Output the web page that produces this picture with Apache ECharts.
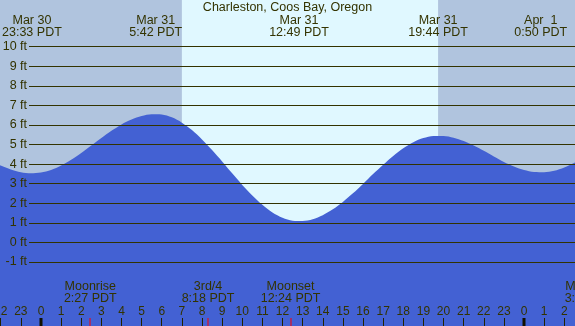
<!DOCTYPE html>
<html>
<head>
<meta charset="utf-8">
<script src="https://cdn.jsdelivr.net/npm/echarts@6/dist/echarts.min.js"></script>
<style>
  html, body { margin: 0; padding: 0; }
  #main { width: 575px; height: 326px; }
</style>
</head>
<body>
<div id="main"></div>
<script>
var dom = document.getElementById('main')
var chart = echarts.init(dom)

// hours counted from Mar 31 00:00 PDT, every half hour
var hours = [-3, -2.5, -2, -1.5, -1, -0.5, 0, 0.5, 1, 1.5, 2, 2.5, 3, 3.5, 4, 4.5, 5, 5.5, 6, 6.5, 7, 7.5, 8, 8.5, 9, 9.5, 10, 10.5, 11, 11.5, 12, 12.5, 13, 13.5, 14, 14.5, 15, 15.5, 16, 16.5, 17, 17.5, 18, 18.5, 19, 19.5, 20, 20.5, 21, 21.5, 22, 22.5, 23, 23.5, 24, 24.5, 25, 25.5, 26, 26.5, 27];
var heights = [4.35, 4.12, 3.93, 3.73, 3.59, 3.53, 3.57, 3.70, 3.93, 4.22, 4.57, 4.95, 5.33, 5.70, 6.03, 6.28, 6.46, 6.55, 6.54, 6.39, 6.12, 5.74, 5.26, 4.72, 4.14, 3.53, 2.94, 2.40, 1.92, 1.53, 1.26, 1.11, 1.09, 1.18, 1.39, 1.69, 2.07, 2.51, 2.99, 3.49, 3.97, 4.42, 4.81, 5.12, 5.33, 5.44, 5.44, 5.35, 5.18, 4.95, 4.68, 4.39, 4.11, 3.88, 3.70, 3.60, 3.59, 3.66, 3.83, 4.07, 4.38];

var extremeHours = [-0.45, 5.70, 12.82, 19.73, 24.83];
var extremeDates = ['Mar 30', 'Mar 31', 'Mar 31', 'Mar 31', 'Apr  1'];
var extremeTimes = ['23:33 PDT', '5:42 PDT', '12:49 PDT', '19:44 PDT', '0:50 PDT'];

var sunrise = 7.0;
var sunset = 19.73;

var moonHours = [2.45, 8.30, 12.40, 27.33];
var moonNames = ['Moonrise', '3rd/4', 'Moonset', 'Moonrise'];
var moonTimes = ['2:27 PDT', '8:18 PDT', '12:24 PDT', '3:20 PDT'];

var midnights = [0, 24];

var textColor = '#333300';
var font = '"Liberation Sans", Arial, sans-serif';
var yMin = -4.27, yMax = 12.386;

var options = {
    backgroundColor: '#B0C4DE',
    animation: false,
    title: {
        text: 'Charleston, Coos Bay, Oregon',
        left: 'center',
        top: 1,
        padding: 0,
        textStyle: { color: textColor, fontSize: 12.5, fontWeight: 'normal', fontFamily: font }
    },
    grid: [
        { left: -19.4, right: -9.4, top: 0, bottom: 0, outerBoundsMode: 'none' },
        { left: 29, right: 0, top: 46.7, bottom: 64, outerBoundsMode: 'none' }
    ],
    xAxis: [{
        type: 'value', gridIndex: 0, min: -3, max: 27, interval: 1,
        axisLine: { show: false, onZero: false },
        splitLine: { show: false },
        axisTick: { inside: true, length: 8, lineStyle: { color: '#222200' } },
        axisLabel: {
            inside: true, margin: 8, color: textColor, fontSize: 12, fontFamily: font,
            formatter: function (v) { return ((v % 24) + 24) % 24 }
        },
        z: 5
    }, {
        type: 'value', gridIndex: 1, min: 0, max: 1, show: false
    }],
    yAxis: [{
        type: 'value', gridIndex: 0, min: yMin, max: yMax, show: false
    }, {
        type: 'value', gridIndex: 1, min: -1, max: 10, interval: 1,
        axisLine: { show: false },
        axisTick: { show: false },
        axisLabel: { margin: 2, color: textColor, fontSize: 12.5, fontFamily: font, formatter: '{value} ft' },
        splitLine: { lineStyle: { color: '#333300', width: 1 } },
        z: 5
    }],
    series: [{
        type: 'custom',
        xAxisIndex: 0, yAxisIndex: 0,
        z: 1,
        silent: true,
        data: [[sunrise, sunset]],
        renderItem: function (params, api) {
            var a = api.coord([api.value(0), yMax]);
            var b = api.coord([api.value(1), yMin]);
            return { type: 'rect', shape: { x: a[0], y: a[1], width: b[0] - a[0], height: b[1] - a[1] }, style: { fill: '#E0F8FF' } };
        }
    }, {
        type: 'line',
        xAxisIndex: 0, yAxisIndex: 0,
        z: 2,
        smooth: 0.3,
        showSymbol: false,
        silent: true,
        lineStyle: { width: 0 },
        areaStyle: { color: '#4361D3', opacity: 1, origin: 'start' },
        data: hours.map(function (h, i) { return [h, heights[i]] })
    }, {
        type: 'custom',
        xAxisIndex: 0, yAxisIndex: 0,
        z: 6, clip: false, silent: true,
        data: extremeHours.map(function (h) { return [h, 0] }),
        renderItem: function (params, api) {
            var x = api.coord([api.value(0), 0])[0];
            var i = params.dataIndex;
            return {
                type: 'text', x: x, y: 15,
                style: {
                    text: extremeDates[i] + '\n' + extremeTimes[i],
                    align: 'center', verticalAlign: 'top', lineHeight: 11.8,
                    fill: textColor, font: '12.5px ' + font
                }
            };
        }
    }, {
        type: 'custom',
        xAxisIndex: 0, yAxisIndex: 0,
        z: 6, clip: false, silent: true,
        data: moonHours.map(function (h) { return [h, 0] }),
        renderItem: function (params, api) {
            var x = api.coord([api.value(0), 0])[0];
            var p = api.coord([api.value(0), yMin]);
            var i = params.dataIndex;
            return {
                type: 'group',
                children: [{
                    type: 'text', x: x, y: 281,
                    style: {
                        text: moonNames[i] + '\n' + moonTimes[i],
                        align: 'center', verticalAlign: 'top', lineHeight: 11.5,
                        fill: textColor, font: '12.5px ' + font
                    }
                }, {
                    type: 'rect',
                    shape: { x: Math.round(p[0]) - 0.5, y: p[1] - 8, width: 1, height: 8 },
                    style: { fill: '#ff0000' }
                }]
            };
        }
    }, {
        type: 'custom',
        xAxisIndex: 0, yAxisIndex: 0,
        z: 7, clip: false, silent: true,
        data: midnights.map(function (h) { return [h, 0] }),
        renderItem: function (params, api) {
            var p = api.coord([api.value(0), yMin]);
            return { type: 'rect', shape: { x: Math.round(p[0]) - 1.5, y: p[1] - 8, width: 3, height: 8 }, style: { fill: '#111100' } };
        }
    }]
}

chart.setOption(options)
</script>
</body>
</html>
